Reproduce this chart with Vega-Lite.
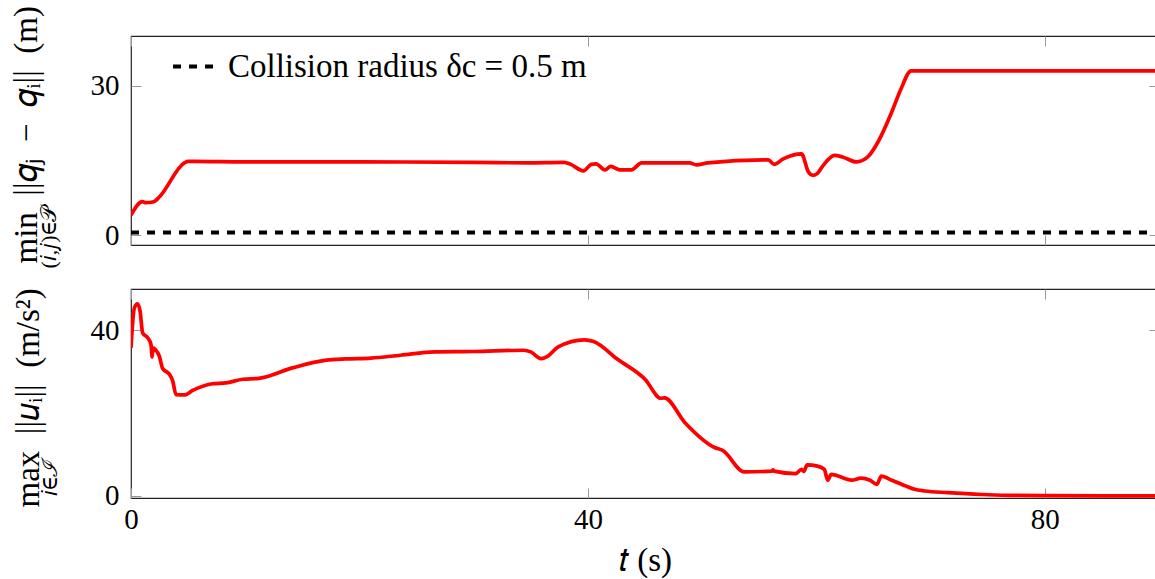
{
  "$schema": "https://vega.github.io/schema/vega-lite/v6.json",
  "background": "white",
  "padding": {"left": 9, "top": 4, "right": 0, "bottom": 0},
  "spacing": 18,
  "config": {
    "font": "Liberation Serif",
    "view": {"stroke": "#222222", "strokeWidth": 1.2},
    "axis": {
      "domain": false, "grid": false,
      "tickColor": "#999999", "tickSize": -10, "tickWidth": 1,
      "labelFont": "Liberation Serif", "labelFontSize": 29, "labelColor": "#000000", "labelFlush": false,
      "titleFont": "Liberation Serif", "titleFontSize": 33, "titleColor": "#000000", "titleFontWeight": "normal"
    },
    "legend": {"labelFont": "Liberation Serif"}
  },
  "datasets": {
    "top": [
      {"t": 0, "d": 4.0}, {"t": 1.0, "d": 6.7}, {"t": 1.3, "d": 6.5}, {"t": 2.0, "d": 6.7}, {"t": 2.5, "d": 7.7},
      {"t": 4.67, "d": 14.5}, {"t": 5.0, "d": 14.8}, {"t": 5.5, "d": 14.8}, {"t": 10, "d": 14.7}, {"t": 20, "d": 14.7},
      {"t": 30, "d": 14.6}, {"t": 34.7, "d": 14.5}, {"t": 37.9, "d": 14.6}, {"t": 38.5, "d": 14.2}, {"t": 39.6, "d": 12.9},
      {"t": 40.3, "d": 14.2}, {"t": 40.7, "d": 14.3}, {"t": 41.5, "d": 13.1}, {"t": 42.0, "d": 13.8}, {"t": 42.8, "d": 13.1},
      {"t": 43.8, "d": 13.1}, {"t": 44.7, "d": 14.5}, {"t": 48.9, "d": 14.5}, {"t": 49.5, "d": 14.1}, {"t": 50.5, "d": 14.5},
      {"t": 55.8, "d": 15.1}, {"t": 56.3, "d": 14.2}, {"t": 57.1, "d": 15.3}, {"t": 58.7, "d": 16.3}, {"t": 59.3, "d": 12.7},
      {"t": 59.7, "d": 12.0}, {"t": 60.1, "d": 12.4}, {"t": 60.6, "d": 14.0}, {"t": 61.6, "d": 16.0}, {"t": 62.3, "d": 15.7},
      {"t": 63.5, "d": 14.7}, {"t": 64.5, "d": 15.7}, {"t": 65.4, "d": 18.7}, {"t": 66.6, "d": 24.7}, {"t": 67.4, "d": 29.3},
      {"t": 68.3, "d": 33.0}, {"t": 90, "d": 33.0}
    ],
    "radius": [
      {"t": 0, "d": 0.5, "label": "Collision radius δc = 0.5 m"},
      {"t": 90, "d": 0.5, "label": "Collision radius δc = 0.5 m"}
    ],
    "bottom": [
      {"t": 0, "u": 35.8}, {"t": 0.3, "u": 45.5}, {"t": 0.58, "u": 46.4}, {"t": 0.79, "u": 44.7}, {"t": 1.02, "u": 39.4},
      {"t": 1.46, "u": 38.2}, {"t": 1.75, "u": 36.6}, {"t": 1.85, "u": 33.6}, {"t": 1.92, "u": 35.8}, {"t": 2.13, "u": 35.4},
      {"t": 2.48, "u": 33.8}, {"t": 2.77, "u": 30.8}, {"t": 3.36, "u": 29.4}, {"t": 3.65, "u": 27.8}, {"t": 3.94, "u": 24.5},
      {"t": 4.67, "u": 24.4}, {"t": 5.4, "u": 25.5}, {"t": 7.15, "u": 27.1}, {"t": 8.3, "u": 27.3}, {"t": 9.8, "u": 28.2},
      {"t": 11.2, "u": 28.4}, {"t": 14.2, "u": 31.0}, {"t": 17.1, "u": 32.8}, {"t": 18.8, "u": 33.1}, {"t": 21, "u": 33.3},
      {"t": 23.6, "u": 34.0}, {"t": 26.6, "u": 34.8}, {"t": 30, "u": 34.9}, {"t": 34.4, "u": 35.2}, {"t": 35.0, "u": 34.8},
      {"t": 35.9, "u": 33.2}, {"t": 36.5, "u": 33.8}, {"t": 37.4, "u": 36.0}, {"t": 39.7, "u": 37.7}, {"t": 40.5, "u": 37.3},
      {"t": 42.6, "u": 33.0}, {"t": 45.0, "u": 28.2}, {"t": 46.4, "u": 23.6}, {"t": 46.7, "u": 23.7}, {"t": 48.5, "u": 17.7},
      {"t": 51.1, "u": 11.7}, {"t": 51.8, "u": 11.0}, {"t": 53.7, "u": 5.8}, {"t": 56.1, "u": 6.0}, {"t": 56.2, "u": 6.3},
      {"t": 56.3, "u": 6.0}, {"t": 58.2, "u": 5.4}, {"t": 58.7, "u": 6.4}, {"t": 58.9, "u": 5.9}, {"t": 59.2, "u": 7.5},
      {"t": 60.1, "u": 7.2}, {"t": 60.7, "u": 6.4}, {"t": 61.0, "u": 3.8}, {"t": 61.3, "u": 5.2}, {"t": 63.1, "u": 3.8},
      {"t": 63.9, "u": 4.3}, {"t": 64.7, "u": 3.8}, {"t": 65.3, "u": 2.8}, {"t": 65.7, "u": 4.8}, {"t": 66.6, "u": 3.8},
      {"t": 68.0, "u": 2.2}, {"t": 68.6, "u": 1.6}, {"t": 69.5, "u": 1.2}, {"t": 71.5, "u": 0.8}, {"t": 74.5, "u": 0.35},
      {"t": 77, "u": 0.15}, {"t": 80, "u": 0.05}, {"t": 85, "u": 0.01}, {"t": 90, "u": 0.0}
    ]
  },
  "resolve": {"scale": {"strokeDash": "independent"}, "legend": {"strokeDash": "independent"}},
  "vconcat": [
    {
      "width": 1028,
      "height": 209,
      "resolve": {"scale": {"x": "independent", "y": "independent"}},
      "layer": [
        {
          "data": {"name": "top"},
          "mark": {"type": "line", "color": "#ff0000", "strokeWidth": 3.7, "interpolate": "monotone", "clip": true},
          "encoding": {
            "x": {"field": "t", "type": "quantitative", "scale": {"domain": [0, 90], "nice": false, "zero": false},
                  "axis": {"orient": "bottom", "values": [0, 40, 80], "labels": false, "title": null}},
            "y": {"field": "d", "type": "quantitative", "scale": {"domain": [-2, 40], "nice": false, "zero": false},
                  "axis": {"orient": "left", "values": [0, 30], "labelPadding": 22,
                           "title": "min\u2002||𝑞ⱼ\u2002−\u2002𝑞ᵢ||\u2002(m)", "titleAngle": 270, "titleAlign": "left", "titleBaseline": "alphabetic",
                           "titleX": -95, "titleY": 227}}
          }
        },
        {
          "data": {"name": "radius"},
          "mark": {"type": "line", "color": "#000000", "strokeWidth": 4, "clip": true},
          "encoding": {
            "x": {"field": "t", "type": "quantitative", "scale": {"domain": [0, 90], "nice": false, "zero": false},
                  "axis": {"orient": "top", "values": [0, 40, 80], "labels": false, "title": null}},
            "y": {"field": "d", "type": "quantitative", "scale": {"domain": [-2, 40], "nice": false, "zero": false},
                  "axis": {"orient": "right", "values": [0, 30], "labels": false,
                           "title": "(𝑖,𝑗)∈𝒫", "titleFontSize": 22, "titleAngle": 270, "titleAlign": "left", "titleBaseline": "alphabetic",
                           "titleX": -1104, "titleY": 232}},
            "strokeDash": {"field": "label", "type": "nominal", "scale": {"range": [[8, 8]]},
                           "legend": {"title": null, "orient": "none", "legendX": 40, "legendY": 7, "padding": 0,
                                      "symbolType": "stroke", "symbolSize": 1849, "symbolStrokeWidth": 4, "symbolStrokeColor": "#000000",
                                      "labelFontSize": 33, "labelOffset": 10, "labelColor": "#000000", "labelLimit": 0}}
          }
        }
      ]
    },
    {
      "width": 1028,
      "height": 209,
      "resolve": {"scale": {"x": "independent", "y": "independent"}},
      "layer": [
        {
          "data": {"name": "bottom"},
          "mark": {"type": "line", "color": "#ff0000", "strokeWidth": 3.7, "interpolate": "monotone", "clip": true},
          "encoding": {
            "x": {"field": "t", "type": "quantitative", "scale": {"domain": [0, 90], "nice": false, "zero": false},
                  "axis": {"orient": "bottom", "values": [0, 40, 80], "labelPadding": 17, "title": "𝑡 (s)", "titlePadding": 10}},
            "y": {"field": "u", "type": "quantitative", "scale": {"domain": [-0.5, 50], "nice": false, "zero": false},
                  "axis": {"orient": "left", "values": [0, 40], "labelPadding": 22,
                           "title": "max\u2002||𝑢ᵢ||\u2002(m/s²)", "titleAngle": 270, "titleAlign": "left", "titleBaseline": "alphabetic",
                           "titleX": -93, "titleY": 218}}
          }
        },
        {
          "data": {"name": "bottom"},
          "mark": {"type": "line", "color": "#ff0000", "strokeWidth": 3.7, "opacity": 0, "clip": true},
          "encoding": {
            "x": {"field": "t", "type": "quantitative", "scale": {"domain": [0, 90], "nice": false, "zero": false},
                  "axis": {"orient": "top", "values": [0, 40, 80], "labels": false, "title": null}},
            "y": {"field": "u", "type": "quantitative", "scale": {"domain": [-0.5, 50], "nice": false, "zero": false},
                  "axis": {"orient": "right", "values": [0, 40], "labels": false,
                           "title": "𝑖∈ℐ", "titleFontSize": 22, "titleAngle": 270, "titleAlign": "left", "titleBaseline": "alphabetic",
                           "titleX": -1103, "titleY": 206}}
          }
        }
      ]
    }
  ]
}
